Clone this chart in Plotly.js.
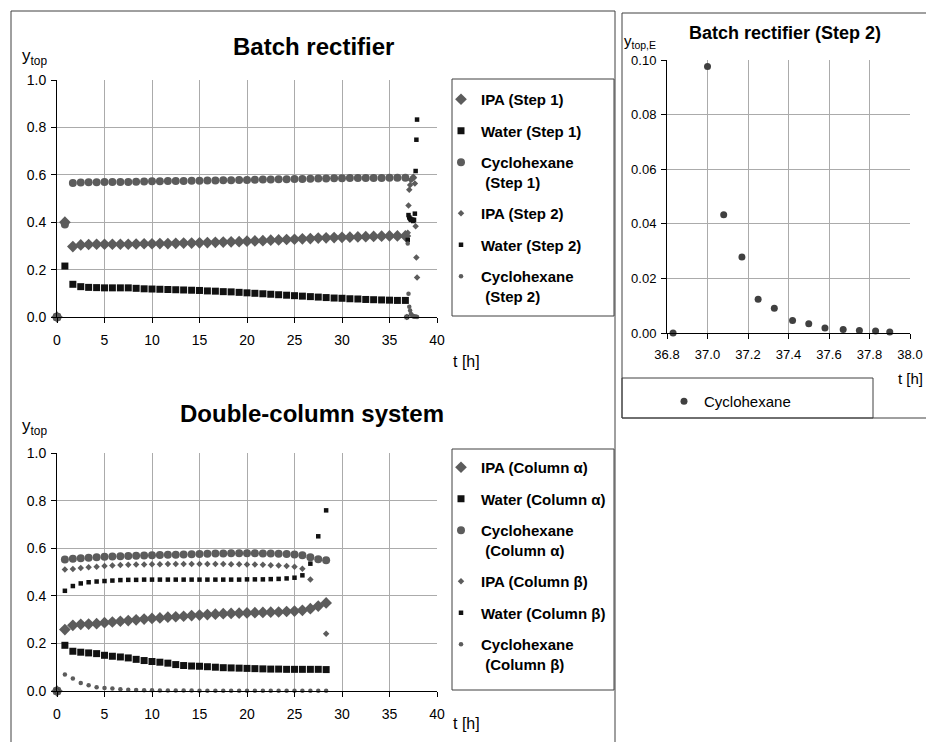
<!DOCTYPE html>
<html>
<head>
<meta charset="utf-8">
<script src="https://cdn.plot.ly/plotly-3.0.1.min.js"></script>
<style>html,body{margin:0;padding:0;background:#fff;}#chart{width:926px;height:742px;}</style>
</head>
<body>
<div id="chart"></div>
<script>
// ---------- data ----------
const tStep1 = [0, 0.83, 1.67, 2.5, 3.33, 4.17, 5, 5.83, 6.67, 7.5,
  8.33, 9.17, 10, 10.83, 11.67, 12.5, 13.33, 14.17, 15, 15.83,
  16.67, 17.5, 18.33, 19.17, 20, 20.83, 21.67, 22.5, 23.33, 24.17,
  25, 25.83, 26.67, 27.5, 28.33, 29.17, 30, 30.83, 31.67, 32.5,
  33.33, 34.17, 35, 35.83, 36.67];
const ipaStep1 = [0, 0.400, 0.297, 0.304, 0.306, 0.307, 0.307, 0.307, 0.307, 0.307,
  0.308, 0.309, 0.309, 0.310, 0.310, 0.311, 0.312, 0.312, 0.313, 0.314,
  0.315, 0.316, 0.317, 0.318, 0.320, 0.321, 0.322, 0.324, 0.325, 0.327,
  0.328, 0.330, 0.331, 0.333, 0.334, 0.335, 0.336, 0.337, 0.338, 0.339,
  0.340, 0.341, 0.342, 0.342, 0.342];
const waterStep1 = [0, 0.215, 0.138, 0.128, 0.125, 0.124, 0.123, 0.123, 0.123, 0.123,
  0.121, 0.119, 0.118, 0.117, 0.116, 0.115, 0.114, 0.113, 0.112, 0.110,
  0.109, 0.107, 0.106, 0.104, 0.102, 0.100, 0.098, 0.096, 0.094, 0.092,
  0.090, 0.088, 0.086, 0.084, 0.082, 0.080, 0.079, 0.077, 0.076, 0.074,
  0.073, 0.072, 0.071, 0.070, 0.070];
const cycStep1 = [0, 0.390, 0.565, 0.568, 0.569, 0.569, 0.570, 0.570, 0.570, 0.570,
  0.571, 0.572, 0.573, 0.573, 0.574, 0.574, 0.574, 0.575, 0.575, 0.576,
  0.576, 0.577, 0.577, 0.578, 0.578, 0.579, 0.580, 0.580, 0.581, 0.581,
  0.582, 0.582, 0.583, 0.584, 0.584, 0.585, 0.585, 0.586, 0.586, 0.587,
  0.587, 0.587, 0.588, 0.588, 0.588];

const tStep2 = [36.83, 36.92, 37.0, 37.08, 37.17, 37.25, 37.33, 37.42, 37.5, 37.58, 37.67, 37.75, 37.83, 37.9];
const ipaStep2 = [0, 0.355, 0.470, 0.537, 0.557, 0.578, 0.581, 0.585, 0.592, 0.588, 0.563, 0.383, 0.251, 0.167];
const waterStep2 = [0, 0.325, 0.430, 0.420, 0.415, 0.410, 0.410, 0.410, 0.405, 0.410, 0.436, 0.616, 0.748, 0.833];
const cycStep2 = [0, 0.31, 0.0976, 0.0433, 0.0278, 0.0124, 0.0091, 0.0046, 0.0034, 0.0018, 0.0013, 0.0009, 0.0007, 0.0004];

const tCol = [0, 0.83, 1.67, 2.5, 3.33, 4.17, 5, 5.83, 6.67, 7.5,
  8.33, 9.17, 10, 10.83, 11.67, 12.5, 13.33, 14.17, 15, 15.83,
  16.67, 17.5, 18.33, 19.17, 20, 20.83, 21.67, 22.5, 23.33, 24.17,
  25, 25.83, 26.67, 27.5, 28.33];
const ipaAlpha = [0, 0.258, 0.276, 0.280, 0.281, 0.283, 0.287, 0.290, 0.293, 0.296,
  0.299, 0.302, 0.305, 0.307, 0.310, 0.312, 0.314, 0.317, 0.319, 0.321,
  0.323, 0.325, 0.326, 0.327, 0.328, 0.329, 0.330, 0.331, 0.332, 0.334,
  0.336, 0.339, 0.346, 0.357, 0.370];
const waterAlpha = [0, 0.192, 0.167, 0.163, 0.160, 0.157, 0.150, 0.146, 0.143, 0.139,
  0.133, 0.128, 0.124, 0.121, 0.117, 0.111, 0.107, 0.105, 0.104, 0.102,
  0.100, 0.098, 0.097, 0.096, 0.095, 0.094, 0.093, 0.092, 0.092, 0.091,
  0.091, 0.091, 0.091, 0.091, 0.090];
const cycAlpha = [0, 0.553, 0.556, 0.558, 0.560, 0.562, 0.564, 0.565, 0.566, 0.567,
  0.568, 0.569, 0.570, 0.571, 0.572, 0.573, 0.574, 0.575, 0.576, 0.577,
  0.578, 0.578, 0.579, 0.579, 0.579, 0.579, 0.578, 0.578, 0.577, 0.576,
  0.574, 0.570, 0.562, 0.554, 0.549];
const ipaBeta = [0, 0.511, 0.513, 0.517, 0.520, 0.522, 0.525, 0.527, 0.529, 0.530,
  0.531, 0.532, 0.533, 0.533, 0.534, 0.534, 0.534, 0.534, 0.534, 0.534,
  0.534, 0.534, 0.533, 0.533, 0.532, 0.531, 0.530, 0.528, 0.527, 0.525,
  0.522, 0.514, 0.468, 0.350, 0.241];
const waterBeta = [0, 0.421, 0.441, 0.452, 0.457, 0.460, 0.462, 0.464, 0.466, 0.467,
  0.467, 0.468, 0.468, 0.468, 0.468, 0.468, 0.468, 0.468, 0.468, 0.468,
  0.468, 0.468, 0.468, 0.468, 0.469, 0.469, 0.469, 0.470, 0.471, 0.473,
  0.476, 0.486, 0.535, 0.650, 0.759];
const cycBeta = [0, 0.069, 0.052, 0.034, 0.024, 0.016, 0.013, 0.010, 0.007, 0.005,
  0.004, 0.003, 0.003, 0.002, 0.002, 0.002, 0.002, 0.002, 0.001, 0.001,
  0.001, 0.001, 0.001, 0.001, 0.001, 0.001, 0.001, 0.001, 0.001, 0.001,
  0.001, 0.001, 0.001, 0.001, 0.001];

const namesTop = ['IPA (Step 1)', 'Water (Step 1)', 'Cyclohexane<br>\u00a0(Step 1)',
  'IPA (Step 2)', 'Water (Step 2)', 'Cyclohexane<br>\u00a0(Step 2)'];
const namesBottom = ['IPA (Column \u03b1)', 'Water (Column \u03b1)', 'Cyclohexane<br>\u00a0(Column \u03b1)',
  'IPA (Column \u03b2)', 'Water (Column \u03b2)', 'Cyclohexane<br>\u00a0(Column \u03b2)'];

// ---------- styling / layout ----------
const W = 926, H = 742;
const P = px => px / W;
const Q = py => 1 - py / H;
const FONT = 'Arial, "Liberation Sans", sans-serif';
const GRAY = '#5c5c5c', BLACK = '#111111';

function tr(x, y, name, symbol, size, color, xa, ya, leg, grp) {
  return {x: x, y: y, name: name, type: 'scatter', mode: 'markers', cliponaxis: false,
    marker: {symbol: symbol, size: size, color: color, line: {width: 0}},
    xaxis: xa, yaxis: ya, legend: leg, legendgroup: grp, showlegend: true, hoverinfo: 'x+y+name'};
}

const data = [
  tr(tStep1, ipaStep1, namesTop[0], 'diamond', 9, GRAY, 'x', 'y', 'legend', 'a1'),
  tr(tStep1, waterStep1, namesTop[1], 'square', 7, BLACK, 'x', 'y', 'legend', 'a2'),
  tr(tStep1, cycStep1, namesTop[2], 'circle', 8, GRAY, 'x', 'y', 'legend', 'a3'),
  tr(tStep2, ipaStep2, namesTop[3], 'diamond', 5, GRAY, 'x', 'y', 'legend', 'a4'),
  tr(tStep2, waterStep2, namesTop[4], 'square', 4.5, BLACK, 'x', 'y', 'legend', 'a5'),
  tr(tStep2, cycStep2, namesTop[5], 'circle', 4.5, GRAY, 'x', 'y', 'legend', 'a6'),

  tr(tCol, ipaAlpha, namesBottom[0], 'diamond', 9, GRAY, 'x2', 'y2', 'legend2', 'b1'),
  tr(tCol, waterAlpha, namesBottom[1], 'square', 7, BLACK, 'x2', 'y2', 'legend2', 'b2'),
  tr(tCol, cycAlpha, namesBottom[2], 'circle', 8, GRAY, 'x2', 'y2', 'legend2', 'b3'),
  tr(tCol, ipaBeta, namesBottom[3], 'diamond', 5, GRAY, 'x2', 'y2', 'legend2', 'b4'),
  tr(tCol, waterBeta, namesBottom[4], 'square', 4.5, BLACK, 'x2', 'y2', 'legend2', 'b5'),
  tr(tCol, cycBeta, namesBottom[5], 'circle', 4.5, GRAY, 'x2', 'y2', 'legend2', 'b6'),

  tr(tStep2, cycStep2, 'Cyclohexane', 'circle', 7, '#404040', 'x3', 'y3', 'legend3', 'c1')
];

const tickfont = {family: FONT, size: 14, color: '#000'};
function xax(dom, range, dtick, fmt, anchor, tf, standoff) {
  return {domain: dom, range: range, dtick: dtick, tick0: range[0], tickformat: fmt, anchor: anchor,
    showgrid: true, gridcolor: '#ababab', gridwidth: 1, zeroline: false,
    showline: true, linecolor: '#000', linewidth: 1, ticks: 'outside', ticklen: 5, tickcolor: '#000',
    ticklabelstandoff: standoff || 0,
    tickfont: tf || tickfont, fixedrange: true};
}

const legendBase = {xanchor: 'left', yanchor: 'top', bgcolor: 'rgba(0,0,0,0)', borderwidth: 0,
  font: {family: FONT, size: 15, color: '#000', weight: 'bold'}, valign: 'top',
  traceorder: 'grouped', tracegroupgap: 9, itemclick: false, itemdoubleclick: false};

function rect(x0, y0, x1, y1) {
  return {type: 'rect', xref: 'paper', yref: 'paper', x0: P(x0), x1: P(x1), y0: Q(y1), y1: Q(y0),
    line: {color: '#404040', width: 1}, fillcolor: 'rgba(0,0,0,0)', layer: 'below'};
}
function ann(text, px, py, size, bold, xanchor) {
  return {text: text, xref: 'paper', yref: 'paper', x: P(px), y: Q(py), showarrow: false,
    xanchor: xanchor || 'center', yanchor: 'middle',
    font: {family: FONT, size: size, color: '#000', weight: bold ? 'bold' : 'normal'}};
}

const smallTick = {family: FONT, size: 13, color: '#000'};
const layout = {
  width: W, height: H, margin: {l: 0, r: 0, t: 0, b: 0},
  paper_bgcolor: '#fff', plot_bgcolor: '#fff', showlegend: true,
  xaxis: xax([P(57), P(437)], [0, 40], 5, 'd', 'y', null, 5),
  yaxis: xax([Q(317), Q(80)], [0, 1], 0.2, '.1f', 'x', null, 2),
  xaxis2: xax([P(57), P(437)], [0, 40], 5, 'd', 'y2', null, 5),
  yaxis2: xax([Q(691), Q(453)], [0, 1], 0.2, '.1f', 'x2', null, 2),
  xaxis3: xax([P(667), P(910)], [36.8, 38.0], 0.2, '.1f', 'y3', smallTick, 4),
  yaxis3: xax([Q(333), Q(60)], [0, 0.1], 0.02, '.2f', 'x3', smallTick, 2),
  legend: Object.assign({}, legendBase, {x: P(441), y: Q(83)}),
  legend2: Object.assign({}, legendBase, {x: P(441), y: Q(451)}),
  legend3: Object.assign({}, legendBase, {x: P(664), y: Q(385), orientation: 'h',
    font: {family: FONT, size: 15, color: '#000', weight: 'normal'}}),
  shapes: [
    rect(11, 11, 615, 760),
    rect(622, 13, 940, 418),
    rect(452, 79, 614, 316),
    rect(452, 449, 614, 690),
    rect(622, 378, 873, 418)
  ],
  annotations: [
    ann('Batch rectifier', 313, 47, 24, true),
    ann('Double-column system', 312, 413, 24, true),
    ann('Batch rectifier (Step 2)', 785, 33, 18, true),
    ann('y<sub>top</sub>', 20, 57, 17, false, 'left'),
    ann('y<sub>top</sub>', 20, 427, 17, false, 'left'),
    ann('y<sub>top,E</sub>', 622, 42, 15, false, 'left'),
    ann('t [h]', 451, 361, 16, false, 'left'),
    ann('t [h]', 451, 723, 16, false, 'left'),
    ann('t [h]', 896, 378, 15, false, 'left')
  ]
};

Plotly.newPlot('chart', data, layout, {staticPlot: true, displayModeBar: false});
</script>
</body>
</html>
